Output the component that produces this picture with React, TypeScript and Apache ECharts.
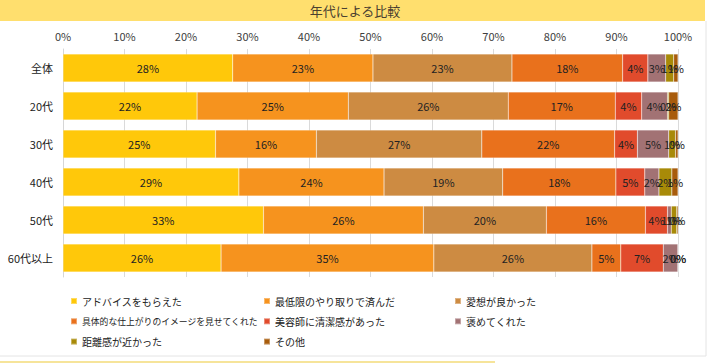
import React, { useEffect, useRef } from "react";
import * as echarts from "echarts";

const categories = ["全体", "20代", "30代", "40代", "50代", "60代以上"];

const seriesNames = [
  "アドバイスをもらえた",
  "最低限のやり取りで済んだ",
  "愛想が良かった",
  "具体的な仕上がりのイメージを見せてくれた",
  "美容師に清潔感があった",
  "褒めてくれた",
  "距離感が近かった",
  "その他",
];

const colors = [
  "#FFC80A",
  "#F6931E",
  "#CD8B42",
  "#E9711C",
  "#E14B2C",
  "#A27274",
  "#A88A08",
  "#A85C0C",
];

// values per series, in category order (全体, 20代, 30代, 40代, 50代, 60代以上)
const advice = [27.6, 21.8, 24.8, 28.6, 32.6, 25.7];
const minimal = [22.8, 24.6, 16.4, 23.6, 26.0, 34.6];
const friendly = [22.6, 26.0, 26.9, 19.3, 20.0, 25.7];
const concrete = [18.0, 17.4, 21.6, 18.4, 16.1, 4.7];
const clean = [4.1, 4.3, 3.7, 4.7, 3.6, 6.9];
const praised = [2.9, 4.2, 5.1, 2.3, 0.6, 2.4];
const closeness = [1.3, 0.2, 1.1, 2.1, 0.9, 0];
const other = [0.7, 1.5, 0.4, 1.0, 0.2, 0];

const seriesValues = [advice, minimal, friendly, concrete, clean, praised, closeness, other];

const xTicks = { min: 0, max: 100, interval: 10 };

const FONT = '"Noto Sans CJK JP", "Noto Sans", sans-serif';

export default function App() {
  const ref = useRef<HTMLDivElement>(null);

  useEffect(() => {
    document.body.style.margin = "0";
    if (!ref.current) return;
    const chart = echarts.init(ref.current, undefined, { renderer: "svg" });

    const legendCol = (idx: number[], left: number) => ({
      orient: "vertical",
      left,
      top: 294,
      padding: 0,
      itemWidth: 6,
      itemHeight: 6,
      itemGap: 6.3,
      icon: "rect",
      selectedMode: false,
      textStyle: { fontFamily: FONT, fontSize: 10, color: "#222", lineHeight: 14 },
      data: idx.map((i) =>
        i === 3
          ? { name: seriesNames[i], textStyle: { fontSize: 8.8, lineHeight: 14 } }
          : { name: seriesNames[i] }
      ),
    });

    chart.setOption({
      animation: false,
      textStyle: { fontFamily: FONT },
      graphic: [
        {
          type: "rect",
          shape: { x: 0, y: 0, width: 705, height: 21 },
          style: { fill: "#FFDF6E" },
          silent: true,
        },
        {
          type: "text",
          x: 355,
          y: 10.5,
          style: {
            text: "年代による比較",
            fontFamily: FONT,
            fontSize: 13,
            fill: "#4a4030",
            align: "center",
            verticalAlign: "middle",
          },
          silent: true,
        },
        {
          type: "polyline",
          shape: { points: [[0, 356], [706, 356], [706, 21]] },
          style: { stroke: "#E4E4E4", lineWidth: 1, fill: "none" },
          silent: true,
        },
        {
          type: "line",
          shape: { x1: 0, y1: 362, x2: 495, y2: 362 },
          style: { stroke: "#F6E49A", lineWidth: 2 },
          silent: true,
        },
      ],
      grid: { left: 63, right: 31, top: 49, height: 228 },
      legend: [
        legendCol([0, 3, 6], 70),
        legendCol([1, 4, 7], 263),
        legendCol([2, 5], 454),
      ],
      xAxis: {
        type: "value",
        position: "top",
        min: xTicks.min,
        max: xTicks.max,
        interval: xTicks.interval,
        axisLine: { show: false },
        axisTick: { show: false },
        axisLabel: {
          formatter: "{value}%",
          fontFamily: FONT,
          fontSize: 11,
          color: "#404040",
          margin: 8,
        },
        splitLine: { lineStyle: { color: "#DADADA", width: 1 } },
      },
      yAxis: {
        type: "category",
        data: categories,
        inverse: true,
        axisLine: { show: true, lineStyle: { color: "#D6D6D6" } },
        axisTick: { show: false },
        axisLabel: { fontFamily: FONT, fontSize: 11, color: "#222", margin: 10 },
      },
      series: seriesNames.map((name, i) => ({
        name,
        type: "bar",
        stack: "total",
        barWidth: 28,
        data: seriesValues[i],
        itemStyle: {
          color: colors[i],
          borderColor: "rgba(255,255,255,0.35)",
          borderWidth: 0.5,
        },
        label: {
          show: true,
          position: "inside",
          formatter: (p: any) => Math.round(p.value) + "%",
          fontFamily: FONT,
          fontSize: 11,
          color: "#222",
        },
      })),
    });

    return () => chart.dispose();
  }, []);

  return <div ref={ref} style={{ width: 709, height: 364 }} />;
}
